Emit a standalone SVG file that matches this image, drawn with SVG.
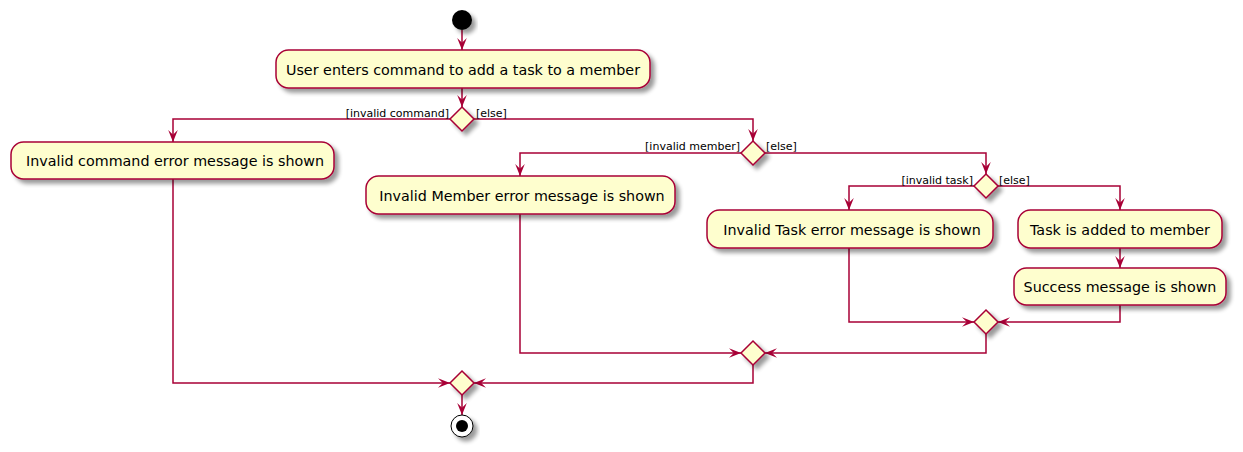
<svg xmlns="http://www.w3.org/2000/svg" width="1243" height="452" viewBox="0 0 1243 452">
<style>
.box{fill:#FEFECE;stroke:#A80036;stroke-width:1.5;filter:url(#sh)}
.dia{fill:#FEFECE;stroke:#A80036;stroke-width:1.5;filter:url(#sh)}
.t{font-family:"DejaVu Sans",Verdana,sans-serif;font-size:14.3px;fill:#000;text-anchor:middle}
.g{font-family:"DejaVu Sans",Verdana,sans-serif;font-size:11px;fill:#000}
.c path{fill:none;stroke:#A80036;stroke-width:1.5;marker-end:url(#ah)}
</style>
<defs>
<filter id="sh" x="-20%" y="-20%" width="150%" height="160%">
<feGaussianBlur in="SourceAlpha" stdDeviation="2"/>
<feOffset dx="4" dy="4" result="b"/>
<feComponentTransfer><feFuncA type="linear" slope="0.4"/></feComponentTransfer>
<feMerge><feMergeNode/><feMergeNode in="SourceGraphic"/></feMerge>
</filter>
<marker id="ah" markerUnits="userSpaceOnUse" markerWidth="12" markerHeight="12" viewBox="0 0 10 10" refX="10" refY="5" orient="auto">
<path d="M0,1 L10,5 L0,9 L4,5 Z" fill="#A80036"/>
</marker>
</defs>
<rect width="1243" height="452" fill="#fff"/>
<g id="connectors" class="c">
<path d="M462,30 L462,50"/>
<path d="M462,88 L462,107"/>
<path d="M450,119 L173,119 L173,142"/>
<path d="M474,119 L753,119 L753,141"/>
<path d="M741,153 L520,153 L520,176"/>
<path d="M765,153 L986,153 L986,174"/>
<path d="M974,186 L849,186 L849,210"/>
<path d="M998,186 L1120,186 L1120,210"/>
<path d="M1120,248 L1120,268"/>
<path d="M849,248 L849,322 L974,322"/>
<path d="M1120,305 L1120,322 L998,322"/>
<path d="M520,214 L520,353 L741,353"/>
<path d="M986,334 L986,353 L765,353"/>
<path d="M173,179 L173,383 L450,383"/>
<path d="M753,365 L753,383 L474,383"/>
<path d="M462,395 L462,415"/>
</g>
<g id="start"><circle cx="462" cy="20" r="10" fill="#000" filter="url(#sh)"/></g>
<g id="n1"><rect class="box" x="276" y="50" width="374" height="38" rx="12.5"/><text class="t" x="463" y="75">User enters command to add a task to a member</text></g>
<g id="d1"><path class="dia" d="M462,107 L474,119 L462,131 L450,119 Z"/>
<text class="g" x="449" y="117" text-anchor="end">[invalid command]</text><text class="g" x="476" y="117">[else]</text></g>
<g id="n2"><rect class="box" x="11" y="142" width="323" height="37" rx="12.5"/><text class="t" x="175" y="166">Invalid command error message is shown</text></g>
<g id="d2"><path class="dia" d="M753,141 L765,153 L753,165 L741,153 Z"/>
<text class="g" x="740" y="150" text-anchor="end">[invalid member]</text><text class="g" x="766" y="150">[else]</text></g>
<g id="n3"><rect class="box" x="366" y="176" width="309" height="38" rx="12.5"/><text class="t" x="522" y="201">Invalid Member error message is shown</text></g>
<g id="d3"><path class="dia" d="M986,174 L998,186 L986,198 L974,186 Z"/>
<text class="g" x="973" y="184" text-anchor="end">[invalid task]</text><text class="g" x="999" y="184">[else]</text></g>
<g id="n4"><rect class="box" x="707" y="210" width="286" height="38" rx="12.5"/><text class="t" x="852" y="235">Invalid Task error message is shown</text></g>
<g id="n5"><rect class="box" x="1018" y="210" width="204" height="38" rx="12.5"/><text class="t" x="1120" y="235">Task is added to member</text></g>
<g id="n6"><rect class="box" x="1014" y="268" width="212" height="37" rx="12.5"/><text class="t" x="1120" y="292">Success message is shown</text></g>
<g id="m1"><path class="dia" d="M986,310 L998,322 L986,334 L974,322 Z"/></g>
<g id="m2"><path class="dia" d="M753,341 L765,353 L753,365 L741,353 Z"/></g>
<g id="m3"><path class="dia" d="M462,371 L474,383 L462,395 L450,383 Z"/></g>
<g id="end"><circle cx="462" cy="426" r="11" fill="#fff" stroke="#000" stroke-width="1" filter="url(#sh)"/><circle cx="462" cy="426" r="6" fill="#000"/></g>
</svg>
